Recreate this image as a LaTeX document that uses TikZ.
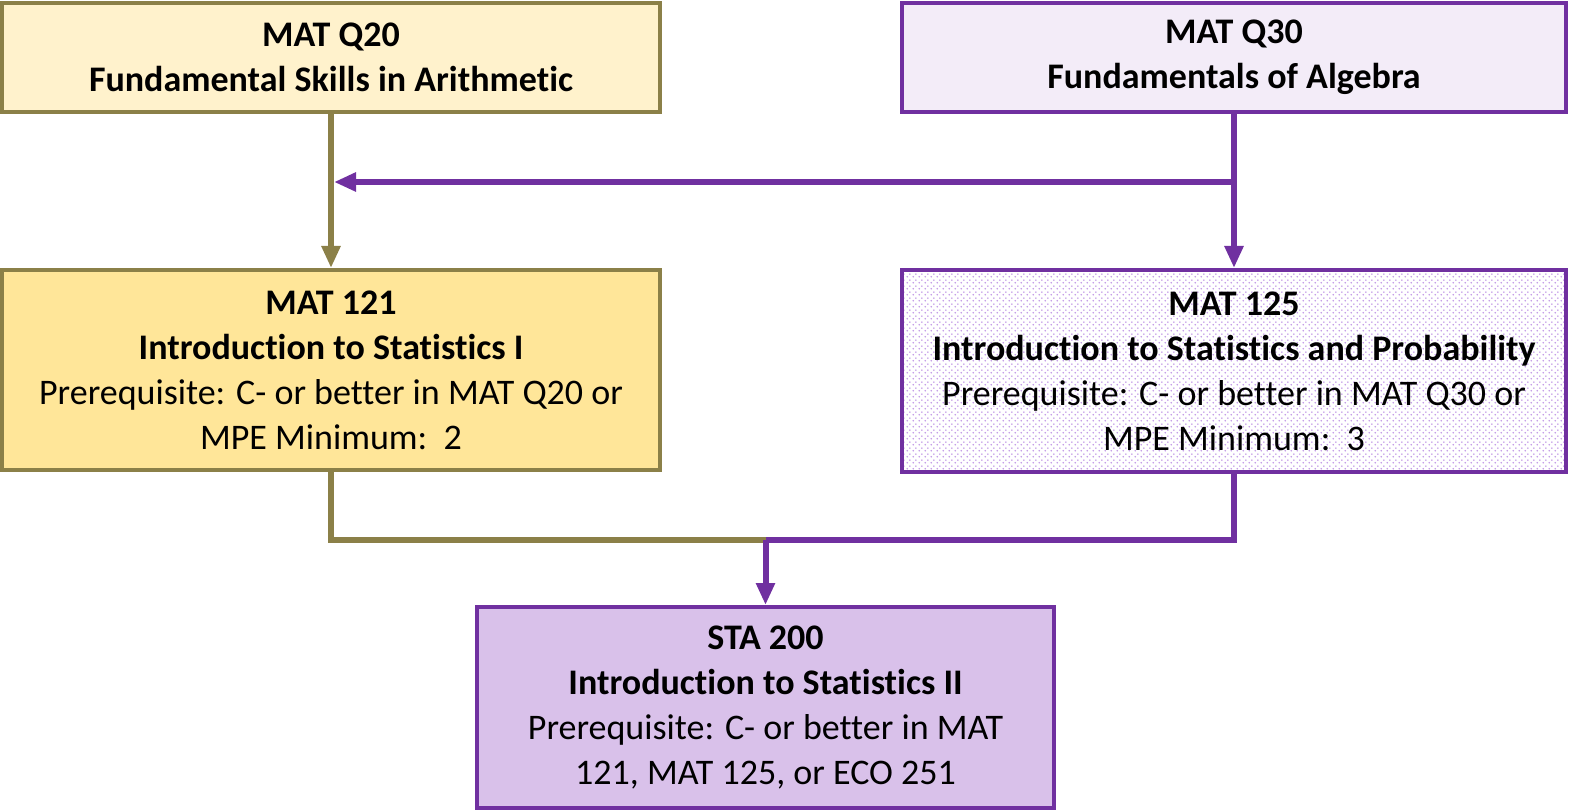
\documentclass[tikz,border=0pt]{standalone}
\usepackage{fontspec}
\setmainfont{Carlito}[Ligatures=NoCommon]
\usetikzlibrary{arrows.meta,patterns.meta}
\definecolor{olv}{RGB}{139,128,72}
\definecolor{purp}{RGB}{112,48,160}
\definecolor{qtwentyfill}{RGB}{255,242,204}
\definecolor{mtwentyonefill}{RGB}{255,230,153}
\definecolor{qthirtyfill}{RGB}{243,236,248}
\definecolor{stafill}{RGB}{217,193,234}
\definecolor{dotc}{RGB}{192,150,228}
\tikzdeclarepattern{name=lilacdots,type=uncolored,
  bounding box={(0,0) and (3pt,3pt)},tile size={(3pt,3pt)},
  code={\fill (0.75pt,0.75pt) circle (0.5pt); \fill (2.25pt,2.25pt) circle (0.5pt);}}
\begin{document}
\begin{tikzpicture}[x=0.5pt,y=-0.5pt,>={Triangle[length=11pt,width=9pt]},
	box/.style={draw,line width=2pt,align=center,inner sep=0pt,font=\fontsize{18}{22.5}\selectfont},
	olvline/.style={draw=olv,line width=3pt},
	purpline/.style={draw=purp,line width=3pt}]
		\useasboundingbox (0,0) rectangle (1573,812);
		% courses
		\node[box,draw=olv,fill=qtwentyfill,minimum width=329pt,minimum height=54.5pt] (q20) at (331,57.5)
			{\textbf{MAT Q20}\\\textbf{Fundamental Skills in Arithmetic}};
		\node[box,draw=purp,fill=qthirtyfill,minimum width=332pt,minimum height=54.5pt] (q30) at (1234,57.5)
			{\textbf{MAT Q30}\\\textbf{Fundamentals of Algebra}};
		\node[box,draw=olv,fill=mtwentyonefill,minimum width=329pt,minimum height=100pt] (m121) at (331,370)
			{\textbf{MAT 121}\\\textbf{Introduction to Statistics I}\\Prerequisite: C- or better in MAT Q20 or\\MPE Minimum:\ \ 2};
		\node[box,draw=purp,pattern={lilacdots},pattern color=dotc,minimum width=332pt,minimum height=101pt] (m125) at (1234,371)
			{\textbf{MAT 125}\\\textbf{Introduction to Statistics and Probability}\\Prerequisite: C- or better in MAT Q30 or\\MPE Minimum:\ \ 3};
		\node[box,draw=purp,fill=stafill,minimum width=288.5pt,minimum height=100.5pt] (s200) at (765.5,707.5)
			{\textbf{STA 200}\\\textbf{Introduction to Statistics II}\\Prerequisite: C- or better in MAT\\121, MAT 125, or ECO 251};
		% connectors
		\coordinate (fork) at (1234,182);
		\coordinate (merge) at (765.5,540);
		\draw[olvline,->] (q20) -- (m121);
		\draw[purpline,->] (q30) -- (m125);
		\draw[purpline,->,shorten >=1.5pt] (fork) -- (fork -| q20.south);
		\draw[olvline] (m121) |- (merge);
		\draw[purpline] (m125) |- (merge);
		\draw[purpline,->] (merge) -- (s200);
		\end{tikzpicture}
\end{document}
